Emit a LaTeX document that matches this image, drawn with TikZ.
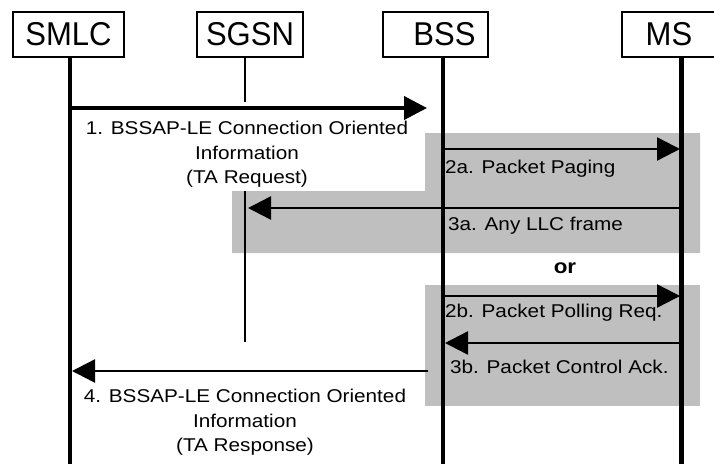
\documentclass[tikz,border=0pt]{standalone}
\usepackage{fontspec}
\setmainfont{Liberation Sans}
\newfontfamily\boxfont{Liberation Sans}[FakeStretch=0.94]
\newfontfamily\msgfont{Liberation Sans}[FakeStretch=1.12]
\usepackage{tikz}
\usetikzlibrary{arrows.meta}
\definecolor{shade}{gray}{0.75}

\begin{document}
\begin{tikzpicture}[
    x=1pt, y=-1pt, % Work in pixels, y pointing down
    >={Triangle[length=23pt, width=23pt]}, % Filled triangle heads
    entity/.style={draw, line width=1.2pt, minimum height=45pt, inner sep=0pt,
        font=\boxfont\fontsize{33}{33}\selectfont}, % Boxes on top
    lifeline/.style={line width=4.5pt}, % Thick vertical lines
    thinline/.style={line width=2pt}, % SGSN line
    msg/.style={->, line width=2.5pt}, % Message arrows
    msgtext/.style={inner sep=0pt, font=\msgfont\fontsize{18.5}{24.5}\selectfont},
    area/.style={fill=shade} % Grey alternatives
]
    \useasboundingbox (0,0) rectangle (714,464);

    % Lifeline positions
    \def\xsmlc{70}
    \def\xsgsn{245}
    \def\xbss{443}
    \def\xms{681.5}
    \def\ybottom{464}

    % --- Layer 1: Grey areas ---
    \fill[area] (425,133) -- (700,133) -- (700,253) -- (232,253) -- (232,191) -- (425,191) -- cycle;
    \fill[area] (425,285) rectangle (700,406);

    % --- Layer 2: Entities ---
    \node[entity, minimum width=111pt] (smlc) at (68.5,34.5) {SMLC};
    \node[entity, minimum width=106pt] (sgsn) at (250,34.5) {SGSN};
    \node[entity, minimum width=105pt] (bss) at (435.5,34.5) {\hspace*{18pt}BSS};
    \node[entity, minimum width=94pt] (ms) at (669,34.5) {MS};

    \coordinate (smlcend) at (\xsmlc,\ybottom);
    \coordinate (bssend) at (\xbss,\ybottom);
    \coordinate (msend) at (\xms,\ybottom);
    \coordinate (sgsna) at (\xsgsn,102);
    \coordinate (sgsnb) at (\xsgsn,191);
    \coordinate (sgsnc) at (\xsgsn,342);

    % SGSN line is broken by the first label
    \draw[thinline] (sgsn.south -| sgsna) -- (sgsna);
    \draw[thinline] (sgsnb) -- (sgsnc);

    % --- Layer 3: Lifelines ---
    \draw[lifeline] (smlc.south -| smlcend) -- (smlcend);
    \draw[lifeline] (bss.south -| bssend) -- (bssend);
    \draw[lifeline] (ms.south -| msend) -- (msend);

    % --- Layer 4: Messages ---
    \coordinate (m1a) at (\xsmlc,108);
    \coordinate (m1b) at (427,108);
    \coordinate (m2aa) at (\xbss,149);
    \coordinate (m2ab) at (680,149);
    \coordinate (m3aa) at (\xms,208);
    \coordinate (m3ab) at (248,208);
    \coordinate (m2ba) at (\xbss,296);
    \coordinate (m2bb) at (680,296);
    \coordinate (m3ba) at (\xms,343);
    \coordinate (m3bb) at (445,343);
    \coordinate (m4a) at (428,371);
    \coordinate (m4b) at (72,371);

    \draw[msg, line width=4pt] (m1a) -- (m1b);
    \draw[msg] (m2aa) -- (m2ab);
    \draw[msg] (m3aa) -- (m3ab);
    \draw[msg] (m2ba) -- (m2bb);
    \draw[msg] (m3ba) -- (m3bb);
    \draw[msg] (m4a) -- (m4b);

    % Labels
    \node[msgtext, align=center, anchor=north] (m1text) at (247,121)
        {1. BSSAP-LE Connection Oriented\\Information\\(TA Request)};
    \node[msgtext, anchor=base west] (m2atext) at (445,173) {2a. Packet Paging};
    \node[msgtext, anchor=base west] (m3atext) at (448,230) {3a. Any LLC frame};
    \node[msgtext, anchor=base, font=\msgfont\bfseries\fontsize{20}{20}\selectfont] (ortext) at (565,273) {or};
    \node[msgtext, anchor=base west] (m2btext) at (445,317) {2b. Packet Polling Req.};
    \node[msgtext, anchor=base west] (m3btext) at (450,373) {3b. Packet Control Ack.};
    \node[msgtext, align=center, anchor=north] (m4text) at (245,389)
        {4. BSSAP-LE Connection Oriented\\Information\\(TA Response)};
\end{tikzpicture}
\end{document}
